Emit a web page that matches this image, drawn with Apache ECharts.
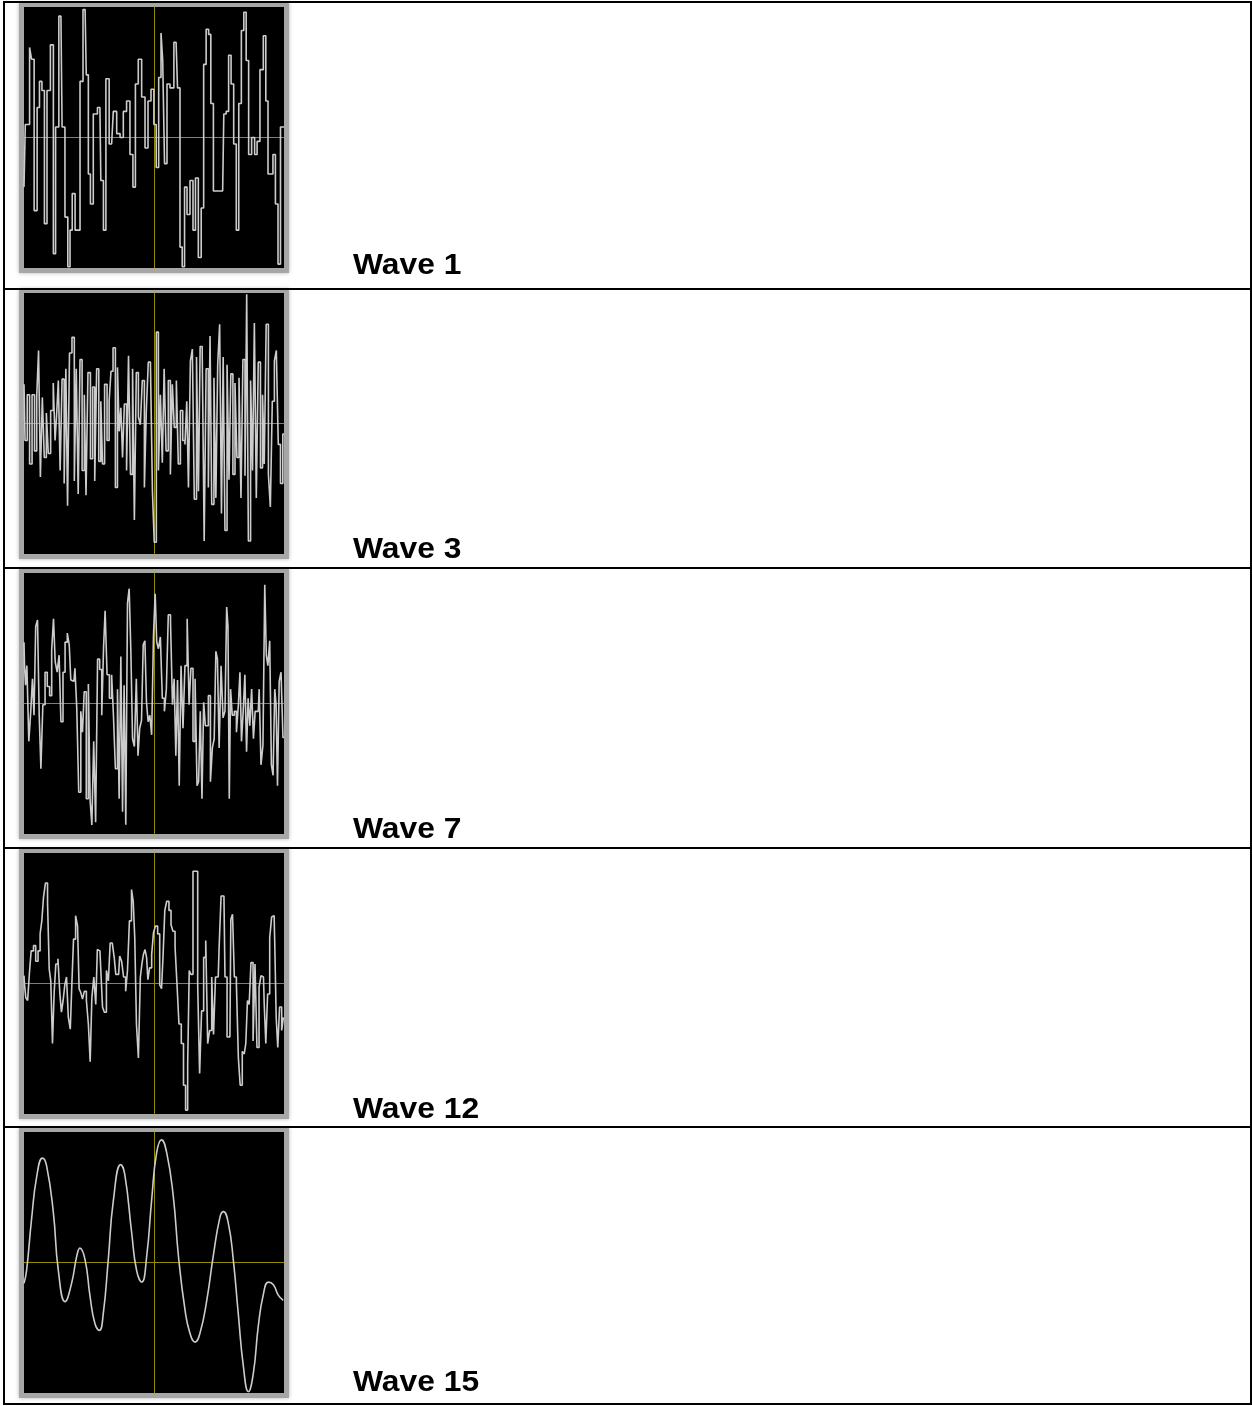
<!DOCTYPE html>
<html>
<head>
<meta charset="utf-8">
<title>Waves</title>
<script src="https://cdn.jsdelivr.net/npm/echarts@6/dist/echarts.min.js"></script>
<style>
  html, body { margin: 0; padding: 0; background: #fff; }
  #waves { width: 1252px; height: 1406px; }
</style>
</head>
<body>
<div id="waves"></div>
<script>
// labels of the five rows
var waveNames = ['Wave 1', 'Wave 3', 'Wave 7', 'Wave 12', 'Wave 15'];

// each sample: [time 0..100, amplitude -1..1]
var wave1 = [[0,-0.38],[1.0,0.10],[1.7,0.10],[2.6,0.69],[3.2,0.60],[4.6,-0.56],[5.5,0.23],[6.4,0.43],[7.4,0.36],[8.3,-0.66],
  [9.4,0.36],[10.9,0.71],[11.7,-0.89],[12.6,0.08],[14.2,0.93],[15.1,0.08],[16.4,-0.61],[17.3,-0.99],[18.1,-0.71],[19.0,-0.43],
  [20.3,-0.71],[21.2,-0.71],[21.9,0.43],[23.5,0.98],[24.4,0.48],[25.1,-0.28],[26.0,-0.51],[27.3,0.18],[29.2,0.23],[29.9,-0.33],
  [31.2,-0.71],[31.8,0.45],[33.7,-0.05],[35.0,0.20],[36.3,0.03],[37.6,0.0],[38.8,0.20],[40.1,0.28],[41.4,-0.13],[42.4,-0.38],
  [43.3,0.41],[44.6,0.60],[45.9,0.31],[47.2,-0.08],[48.2,0.28],[49.5,0.37],[50.4,0.10],[51.3,-0.23],[52.3,0.46],[53.1,0.80],
  [53.6,0.59],[54.5,-0.20],[55.5,0.41],[56.8,0.38],[58.5,0.73],[59.6,0.38],[60.4,-0.84],[61.3,-0.99],[62.2,-0.38],[63.2,-0.59],
  [64.5,-0.33],[65.5,-0.71],[66.4,-0.31],[67.7,-0.92],[68.6,-0.54],[69.6,0.56],[70.5,0.83],[71.5,0.79],[72.2,0.26],[73.5,-0.41],
  [76.4,-0.41],[77.3,0.18],[78.2,0.20],[79.2,0.63],[80.1,0.41],[81.2,-0.05],[82.1,-0.71],[83.1,0.26],[84.1,0.82],[85.0,0.96],
  [85.9,0.59],[86.9,-0.13],[88.2,0.0],[89.2,-0.13],[90.1,-0.03],[91.4,0.52],[92.7,0.78],[93.3,0.28],[94.4,-0.28],[95.3,-0.28],
  [96.2,-0.13],[97.2,-0.51],[98.2,-0.97],[99.1,0.08],[100,0.08]];

var wave3 = [[0,0.30],[0.8,-0.13],[1.7,0.22],[2.6,-0.31],[3.6,0.22],[4.5,-0.21],[5.3,0.21],[5.9,0.56],[6.7,-0.41],[7.4,0.20],
  [8.2,-0.26],[9.0,0.08],[9.7,-0.23],[10.8,0.10],[11.7,0.31],[12.2,-0.13],[12.8,0.05],[13.6,0.33],[14.2,-0.36],[15.1,0.34],
  [15.8,-0.46],[16.4,0.42],[17.1,-0.63],[17.9,0.54],[19.0,0.66],[19.7,-0.44],[20.5,0.42],[21.2,-0.54],[21.9,0.49],[22.8,-0.36],
  [23.6,0.22],[24.1,-0.55],[25.1,0.39],[26.0,-0.27],[26.8,0.28],[27.6,-0.44],[28.3,0.42],[29.2,-0.29],[29.9,0.17],[30.5,-0.31],
  [31.5,0.30],[32.4,-0.13],[33.1,0.17],[33.8,0.40],[34.7,0.58],[35.6,-0.49],[36.3,0.43],[36.9,-0.06],[37.6,0.12],[38.2,-0.26],
  [39.0,0.15],[39.9,-0.36],[40.5,0.52],[41.4,-0.39],[42.1,0.42],[42.8,-0.74],[43.6,0.39],[44.4,0.05],[45.1,-0.01],[45.9,0.33],
  [46.7,-0.49],[47.4,0.10],[48.2,0.47],[49.1,0.44],[49.7,-0.52],[50.5,-0.91],[51.3,0.70],[52.1,-0.36],[52.8,0.22],[53.6,-0.30],
  [54.2,0.42],[55.1,-0.21],[55.9,0.33],[56.7,-0.39],[57.4,0.30],[58.2,-0.03],[59.0,0.33],[59.7,-0.31],[60.6,0.10],[61.5,-0.13],
  [62.3,-0.16],[62.9,0.17],[63.6,-0.49],[64.4,0.48],[65.1,0.57],[65.9,-0.58],[66.8,0.51],[67.4,-0.52],[68.1,0.59],[69.0,0.53],
  [69.6,-0.90],[70.5,0.42],[71.3,-0.49],[71.8,0.67],[72.6,-0.62],[73.5,0.35],[74.1,-0.57],[74.9,0.45],[75.6,0.76],[76.3,-0.69],
  [76.9,0.51],[77.7,-0.82],[78.5,0.45],[79.2,-0.43],[79.9,0.38],[80.8,-0.39],[81.5,0.31],[82.3,-0.26],[83.1,0.35],[83.8,-0.57],
  [84.6,0.49],[85.4,-0.40],[85.9,0.99],[86.7,-0.90],[87.6,0.33],[88.2,-0.36],[89.0,0.77],[89.7,-0.57],[90.5,0.47],[91.4,-0.34],
  [92.1,0.22],[92.7,-0.31],[93.6,0.76],[94.4,-0.39],[95.1,-0.64],[95.9,0.17],[96.7,0.48],[97.4,0.56],[98.2,-0.16],[99.1,-0.46],
  [100,-0.08]];

var wave7 = [[0,0.47],[0.4,0.29],[0.8,0.14],[1.4,0.29],[2.3,-0.29],[2.9,-0.06],[3.6,0.19],[4.1,-0.09],[4.9,0.59],[5.5,0.64],
  [6.2,-0.09],[6.8,-0.50],[7.7,-0.01],[8.5,0.24],[9.4,0.13],[10.3,0.06],[11.0,0.41],[11.7,0.65],[12.3,0.32],[13.2,0.24],
  [13.8,0.37],[14.6,-0.14],[15.4,0.24],[16.2,0.47],[17.1,0.54],[17.7,0.45],[18.3,0.18],[19.2,0.17],[20.0,0.27],[20.6,-0.04],
  [21.5,-0.68],[22.2,-0.06],[22.8,-0.22],[23.5,0.09],[24.4,-0.73],[25.1,0.15],[25.8,-0.75],[26.4,-0.93],[27.2,-0.29],[27.9,-0.91],
  [28.7,0.34],[29.5,0.26],[30.3,-0.09],[30.9,0.43],[31.5,0.71],[32.4,0.22],[33.3,0.04],[34.1,0.22],[34.7,-0.09],[35.6,-0.50],
  [36.3,0.11],[36.9,-0.73],[37.6,0.36],[38.2,-0.83],[38.8,0.14],[39.5,-0.93],[40.1,0.77],[40.8,0.88],[41.4,0.40],[42.1,-0.27],
  [42.8,-0.33],[43.6,0.19],[44.1,-0.40],[44.9,-0.19],[45.5,-0.13],[46.2,0.45],[46.8,0.48],[47.4,0.01],[48.1,-0.14],[48.7,-0.09],
  [49.5,-0.24],[50.1,0.52],[50.8,0.84],[51.3,0.47],[52.1,0.42],[52.8,0.51],[53.6,0.04],[54.4,-0.06],[55.1,0.11],[55.9,0.68],
  [56.8,0.63],[57.4,-0.01],[58.1,0.19],[58.7,-0.40],[59.4,0.18],[60.0,-0.63],[60.8,0.29],[61.5,-0.19],[62.3,0.29],[63.2,0.65],
  [63.8,-0.01],[64.6,0.27],[65.4,-0.29],[66.2,0.19],[66.9,-0.63],[67.4,-0.60],[68.2,-0.06],[68.7,-0.73],[69.5,0.01],[70.0,-0.17],
  [70.5,-0.17],[71.3,0.06],[72.1,-0.60],[72.8,-0.34],[73.5,-0.27],[74.1,0.40],[74.7,0.34],[75.4,-0.34],[76.2,0.29],[76.9,-0.11],
  [77.7,-0.06],[78.2,0.74],[78.7,0.59],[79.2,-0.73],[79.7,0.11],[80.5,-0.09],[81.3,-0.06],[82.1,-0.22],[82.8,-0.01],[83.3,0.24],
  [84.0,-0.29],[84.6,-0.06],[85.3,0.22],[85.9,-0.37],[86.5,0.04],[87.2,-0.17],[87.9,0.11],[88.6,-0.27],[89.2,-0.06],[90.1,-0.06],
  [90.8,0.11],[91.5,-0.47],[92.3,-0.32],[92.9,0.91],[93.5,0.37],[94.1,0.29],[94.9,0.48],[95.4,-0.47],[96.2,-0.55],[96.7,0.11],
  [97.2,-0.01],[97.8,-0.63],[98.5,0.17],[99.2,0.24],[100,-0.26]];

var wave12 = [[0,0.06],[0.4,-0.01],[1.0,-0.11],[1.8,-0.13],[2.3,0.07],[3.2,0.25],[4.1,0.29],[4.9,0.17],[5.9,0.25],[6.5,0.38],
  [7.2,0.48],[7.8,0.66],[8.7,0.77],[9.4,0.62],[10.0,0.11],[10.6,0.02],[11.3,-0.46],[11.9,-0.07],[12.6,0.15],[13.5,0.19],
  [14.1,-0.08],[14.7,-0.22],[15.4,-0.13],[16.0,-0.01],[16.7,0.05],[17.4,-0.26],[18.2,-0.35],[18.7,0.02],[19.4,0.34],[20.3,0.52],
  [20.9,0.44],[21.5,-0.04],[22.2,-0.07],[22.8,-0.12],[23.6,-0.06],[24.4,-0.13],[25.1,-0.31],[25.8,-0.60],[26.4,-0.11],[27.3,0.05],
  [27.9,-0.16],[28.5,0.26],[29.2,0.25],[29.9,0.10],[30.5,-0.18],[31.3,-0.22],[32.1,0.10],[32.8,0.02],[33.5,0.31],[34.4,0.30],
  [35.0,0.20],[35.6,0.07],[36.4,0.07],[37.2,0.21],[37.9,0.17],[38.7,0.05],[39.5,-0.06],[40.1,0.10],[41.0,0.48],[41.7,0.72],
  [42.3,0.63],[42.9,0.35],[43.6,-0.31],[44.4,-0.57],[45.1,0.05],[45.6,0.15],[46.2,0.22],[46.9,0.26],[47.4,0.20],[47.9,0.03],
  [48.7,0.12],[49.5,0.22],[50.1,0.39],[51.0,0.44],[51.8,0.38],[52.6,-0.01],[53.2,-0.04],[53.8,0.22],[54.5,0.56],[55.3,0.63],
  [56.2,0.56],[56.9,0.45],[57.7,0.40],[58.5,0.28],[59.2,-0.01],[60.0,-0.31],[61.0,-0.46],[61.7,-0.78],[62.6,-0.97],[63.3,-0.62],
  [63.8,0.10],[64.6,0.07],[65.4,0.86],[66.4,0.86],[67.2,-0.01],[67.9,-0.69],[68.7,-0.21],[69.5,0.20],[70.3,0.33],[71.0,-0.46],
  [71.8,-0.36],[72.6,0.05],[73.2,-0.39],[74.1,0.05],[74.7,0.05],[75.4,0.28],[76.2,0.67],[76.9,0.67],[77.7,0.05],[78.5,-0.41],
  [79.2,-0.41],[79.9,0.49],[80.5,0.53],[81.3,0.05],[82.1,-0.01],[82.8,-0.57],[83.5,-0.78],[84.4,-0.52],[85.0,-0.54],[85.6,-0.46],
  [86.3,-0.13],[86.9,-0.16],[87.7,0.16],[88.5,-0.44],[89.2,0.15],[90.0,-0.49],[90.8,-0.03],[91.5,0.06],[92.1,0.05],[92.7,-0.16],
  [93.3,-0.46],[94.1,-0.08],[94.9,0.35],[95.6,0.51],[96.2,0.52],[96.7,0.30],[97.3,-0.26],[97.9,-0.49],[98.7,-0.18],[99.5,-0.36],
  [100,-0.26]];

var wave15 = [[0,-0.16],[1.0,-0.06],[2.9,0.33],[4.9,0.66],[7.1,0.80],[8.7,0.74],[11.3,0.38],[13.2,-0.06],[15.8,-0.30],[18.3,-0.16],
  [20.3,0.05],[21.5,0.11],[23.5,0.02],[25.4,-0.26],[27.3,-0.47],[29.0,-0.52],[30.5,-0.39],[32.4,0.02],[34.4,0.48],[37.2,0.75],
  [38.8,0.67],[41.4,0.23],[43.3,-0.06],[45.3,-0.15],[47.2,0.05],[49.1,0.48],[51.0,0.84],[52.9,0.94],[54.9,0.84],[57.4,0.51],
  [59.4,0.05],[61.9,-0.36],[63.8,-0.54],[65.8,-0.61],[67.7,-0.54],[70.3,-0.29],[72.8,0.05],[75.4,0.35],[76.7,0.39],[78.6,0.30],
  [80.5,0.02],[82.4,-0.39],[84.4,-0.80],[86.3,-0.99],[88.2,-0.85],[90.1,-0.49],[92.1,-0.24],[94.0,-0.15],[95.9,-0.17],[97.8,-0.25],
  [99.7,-0.29]];

var waves = [wave1, wave3, wave7, wave12, wave15];

// layout of the table
var rowLines = [2, 289, 568, 848, 1127, 1404]; // horizontal rules
var plotTops = [7, 293, 573, 853, 1132];     // top of each black screen
var labelBase = [273, 557, 837, 1117, 1390];   // text baselines
var plotLeft = 24, plotW = 260, plotH = 261;
var crossColor = '#938b00';

var chart = echarts.init(document.getElementById('waves'));

var grids = [], xAxes = [], yAxes = [], series = [], graphics = [];

// table rules
rowLines.forEach(function(y) {
  graphics.push({
    type: 'line', silent: true,
    shape: { x1: 3, y1: y, x2: 1252, y2: y },
    style: { stroke: '#000', lineWidth: 2 }
  });
});
[4, 1251].forEach(function(x) {
  graphics.push({
    type: 'line', silent: true,
    shape: { x1: x, y1: 1, x2: x, y2: 1405 },
    style: { stroke: '#000', lineWidth: 2 }
  });
});

waves.forEach(function(w, i) {
  var top = plotTops[i];
  // grey bevel around the scope screen
  graphics.push({
    type: 'rect', silent: true, z: -1,
    shape: { x: plotLeft - 5, y: top - 4, width: plotW + 10, height: plotH + 9 },
    style: { fill: '#a6a6a6', shadowBlur: 4, shadowColor: 'rgba(160,160,160,0.8)' }
  });
  graphics.push({
    type: 'text', silent: true,
    x: 353, y: labelBase[i] - 22,
    scaleX: 1.06,
    style: {
      text: waveNames[i],
      font: 'bold 30px "Liberation Sans", Arial, sans-serif',
      fill: '#000',
      verticalAlign: 'top'
    }
  });

  grids.push({
    left: plotLeft, top: top, width: plotW, height: plotH,
    show: true, backgroundColor: '#000', borderWidth: 0
  });
  // x axis line sits on amplitude 0, y axis line is pushed to the middle of the screen
  xAxes.push({
    gridIndex: i, type: 'value', min: 0, max: 100,
    axisLine: { show: true, onZero: true, lineStyle: { color: crossColor, width: 1 } },
    axisTick: { show: false }, axisLabel: { show: false }, splitLine: { show: false }
  });
  yAxes.push({
    gridIndex: i, type: 'value', min: -1, max: 1,
    offset: -plotW / 2,
    axisLine: { show: true, onZero: false, lineStyle: { color: crossColor, width: 1 } },
    axisTick: { show: false }, axisLabel: { show: false }, splitLine: { show: false }
  });
  series.push({
    type: 'line',
    xAxisIndex: i,
    yAxisIndex: i,
    data: w,
    showSymbol: false,
    step: i < 4 ? 'middle' : false,
    smooth: i == 4,
    lineStyle: { color: '#cccccc', width: 1.6 }
  });
});

chart.setOption({
  animation: false,
  backgroundColor: '#fff',
  grid: grids,
  xAxis: xAxes,
  yAxis: yAxes,
  series: series,
  graphic: graphics
});
</script>
</body>
</html>
